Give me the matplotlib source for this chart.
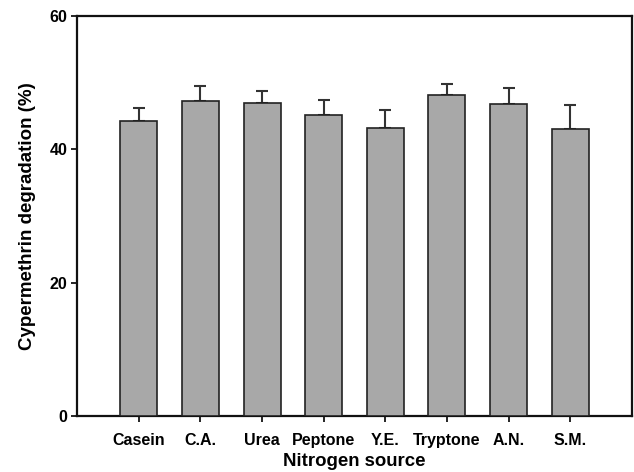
import matplotlib
matplotlib.use("Agg")
import matplotlib.pyplot as plt
import numpy as np

# ---------------------------------------------------------------------------
# Data
# ---------------------------------------------------------------------------
sources = ["Casein", "C.A.", "Urea", "Peptone", "Y.E.", "Tryptone", "A.N.", "S.M."]
degradation = [44.3, 47.2, 46.9, 45.2, 43.2, 48.1, 46.8, 43.0]
err_upper = [1.9, 2.3, 1.8, 2.2, 2.7, 1.7, 2.4, 3.6]

plt.rcParams.update({
    "font.family": ["Liberation Sans", "DejaVu Sans"],
    "font.weight": "bold",
})

fig = plt.figure(figsize=(6.34, 4.72), dpi=100)
ax = fig.add_axes([0.1215, 0.1186, 0.8753, 0.8475])

x = np.arange(len(sources))
ax.bar(x, degradation, width=0.6, color="#a8a8a8", edgecolor="#222222",
       linewidth=1.2, zorder=3)
ax.errorbar(x, degradation, yerr=[np.zeros(len(x)), err_upper],
            fmt="none", ecolor="#333333", elinewidth=1.5, capsize=4.3,
            capthick=1.5, zorder=2)

ax.set_xlim(-1, len(sources))
ax.set_ylim(0, 60)
ax.set_yticks([0, 20, 40, 60])
ax.set_xticks(x)
ax.set_xticklabels(sources, fontsize=11.5, fontweight="bold")
ax.tick_params(axis="y", direction="out", length=4, width=1.2, pad=3,
               labelsize=11.5)
ax.tick_params(axis="x", direction="out", length=4, width=1.2, pad=8)
for lab in ax.get_yticklabels():
    lab.set_fontweight("bold")

for sp in ax.spines.values():
    sp.set_linewidth(1.6)
    sp.set_color("#111111")

ax.set_xlabel("Nitrogen source", fontsize=13.4, fontweight="bold", labelpad=4)
ax.set_ylabel("Cypermethrin degradation (%)", fontsize=13.5,
              fontweight="bold", labelpad=10)

fig.savefig("out.png", dpi=100)
